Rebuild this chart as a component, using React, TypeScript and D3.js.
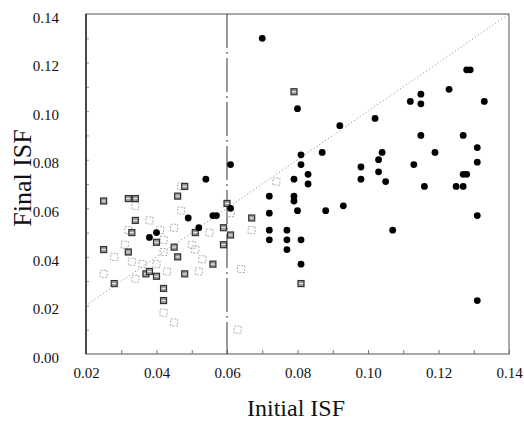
import React, { useEffect, useRef } from "react";
import * as d3 from "d3";

const xTicks = [0.02, 0.04, 0.06, 0.08, 0.1, 0.12, 0.14];
const yTicks = [0, 0.02, 0.04, 0.06, 0.08, 0.1, 0.12, 0.14];
const splitX = 0.06;

// [initial ISF, final ISF]
const circles: [number, number][] = [
  [0.070, 0.130], [0.080, 0.101], [0.092, 0.094], [0.102, 0.097], [0.112, 0.104],
  [0.115, 0.107], [0.115, 0.103], [0.123, 0.109], [0.128, 0.117], [0.129, 0.117],
  [0.133, 0.104], [0.115, 0.090], [0.127, 0.090], [0.131, 0.085], [0.131, 0.079],
  [0.119, 0.083], [0.113, 0.078], [0.104, 0.083], [0.103, 0.080], [0.103, 0.075],
  [0.105, 0.071], [0.098, 0.077], [0.098, 0.072], [0.116, 0.069], [0.125, 0.069],
  [0.127, 0.069], [0.127, 0.074], [0.128, 0.074], [0.131, 0.057], [0.107, 0.051],
  [0.131, 0.022], [0.087, 0.083], [0.088, 0.059], [0.093, 0.061], [0.081, 0.082],
  [0.081, 0.078], [0.083, 0.074], [0.083, 0.070], [0.079, 0.072], [0.079, 0.065],
  [0.079, 0.063], [0.080, 0.059], [0.072, 0.065], [0.072, 0.058], [0.072, 0.051],
  [0.072, 0.047], [0.077, 0.051], [0.077, 0.047], [0.077, 0.043], [0.081, 0.047],
  [0.081, 0.037], [0.061, 0.078], [0.061, 0.060], [0.054, 0.072], [0.056, 0.057],
  [0.057, 0.057], [0.049, 0.056], [0.052, 0.052], [0.040, 0.050], [0.038, 0.048],
];

const filledSquares: [number, number][] = [
  [0.025, 0.063], [0.025, 0.043], [0.028, 0.029], [0.032, 0.064], [0.034, 0.064],
  [0.034, 0.055], [0.033, 0.050], [0.032, 0.042], [0.037, 0.033], [0.038, 0.034],
  [0.040, 0.032], [0.040, 0.046], [0.042, 0.027], [0.042, 0.022], [0.045, 0.044],
  [0.046, 0.040], [0.046, 0.065], [0.048, 0.069], [0.048, 0.033], [0.051, 0.050],
  [0.056, 0.037], [0.059, 0.045], [0.059, 0.052], [0.060, 0.062], [0.061, 0.049],
  [0.067, 0.056], [0.079, 0.108], [0.081, 0.029],
];

const openSquares: [number, number][] = [
  [0.025, 0.033], [0.028, 0.040], [0.031, 0.045], [0.032, 0.051], [0.033, 0.038],
  [0.034, 0.031], [0.034, 0.061], [0.038, 0.055], [0.036, 0.037], [0.040, 0.037],
  [0.041, 0.051], [0.042, 0.047], [0.042, 0.042], [0.043, 0.034], [0.045, 0.052],
  [0.047, 0.059], [0.047, 0.069], [0.050, 0.045], [0.051, 0.043], [0.053, 0.039],
  [0.052, 0.034], [0.055, 0.050], [0.064, 0.035], [0.067, 0.051], [0.074, 0.071],
  [0.061, 0.058], [0.063, 0.010], [0.042, 0.017], [0.045, 0.013],
];

const App = () => {
  const chartRef = useRef<SVGSVGElement>(null);

  useEffect(() => {
    const width = 524;
    const height = 422;
    const margin = { top: 14, right: 15, bottom: 68, left: 86 };

    const svg = d3.select(chartRef.current);
    svg.selectAll("*").remove();
    svg.attr("width", width).attr("height", height);

    const x = d3
      .scaleLinear()
      .domain([0.02, 0.14])
      .range([margin.left, width - margin.right]);
    const y = d3
      .scaleLinear()
      .domain([0, 0.14])
      .range([height - margin.bottom, margin.top]);

    const font = '"Liberation Serif", "Times New Roman", Times, serif';

    // frame
    svg
      .append("rect")
      .attr("x", x(0.02))
      .attr("y", y(0.14))
      .attr("width", x(0.14) - x(0.02))
      .attr("height", y(0) - y(0.14))
      .attr("fill", "none")
      .attr("stroke", "#555")
      .attr("stroke-width", 1);

    // minor inward ticks
    const xMinor = d3.range(0.03, 0.14, 0.01);
    const yMinor = d3.range(0.01, 0.14, 0.01);
    svg
      .append("g")
      .attr("transform", `translate(0,${y(0)})`)
      .call(d3.axisBottom(x).tickValues(xMinor).tickSize(-4).tickFormat(() => ""))
      .call((g) => g.select(".domain").remove())
      .selectAll("line")
      .attr("stroke", "#777");
    svg
      .append("g")
      .attr("transform", `translate(${x(0.02)},0)`)
      .call(d3.axisLeft(y).tickValues(yMinor).tickSize(-3).tickFormat(() => ""))
      .call((g) => g.select(".domain").remove())
      .selectAll("line")
      .attr("stroke", "#999");

    // left axis line a bit heavier
    svg
      .append("line")
      .attr("x1", x(0.02))
      .attr("x2", x(0.02))
      .attr("y1", y(0.14))
      .attr("y2", y(0))
      .attr("stroke", "#222")
      .attr("stroke-width", 1.4);

    // tick labels
    const xAxis = svg
      .append("g")
      .attr("transform", `translate(0,${y(0)})`)
      .call(d3.axisBottom(x).tickValues(xTicks).tickSize(0).tickPadding(13).tickFormat(d3.format(".2f")));
    xAxis.select(".domain").remove();
    xAxis.attr("font-family", null).attr("font-size", null);
    xAxis
      .selectAll("text")
      .style("font-family", font)
      .style("font-size", "15px")
      .attr("fill", "#111");

    const yAxis = svg
      .append("g")
      .attr("transform", `translate(${x(0.02)},0)`)
      .call(d3.axisLeft(y).tickValues(yTicks).tickSize(0).tickPadding(27).tickFormat(d3.format(".2f")));
    yAxis.select(".domain").remove();
    yAxis.attr("font-family", null).attr("font-size", null);
    yAxis
      .selectAll("text")
      .style("font-family", font)
      .style("font-size", "15px")
      .attr("fill", "#111")
      .attr("dy", "0.55em");

    // 1:1 line
    svg
      .append("line")
      .attr("x1", x(0.02))
      .attr("y1", y(0.02))
      .attr("x2", x(0.14))
      .attr("y2", y(0.14))
      .attr("stroke", "#888")
      .attr("stroke-width", 1)
      .attr("stroke-dasharray", "1,2.5");

    // split line
    svg
      .append("line")
      .attr("x1", x(splitX))
      .attr("x2", x(splitX))
      .attr("y1", y(0.14))
      .attr("y2", y(0))
      .attr("stroke", "#333")
      .attr("stroke-width", 1)
      .attr("stroke-dasharray", "34,4,2,4");

    // open squares
    const os = 7;
    svg
      .append("g")
      .selectAll("rect")
      .data(openSquares)
      .enter()
      .append("rect")
      .attr("x", (d) => x(d[0]) - os / 2)
      .attr("y", (d) => y(d[1]) - os / 2)
      .attr("width", os)
      .attr("height", os)
      .attr("fill", "none")
      .attr("stroke", "#aaa")
      .attr("stroke-width", 1)
      .attr("stroke-dasharray", "2,1.5");

    // filled squares
    const fs = 6;
    const sq = svg.append("g").selectAll("g").data(filledSquares).enter().append("g");
    sq.append("rect")
      .attr("x", (d) => x(d[0]) - fs / 2)
      .attr("y", (d) => y(d[1]) - fs / 2)
      .attr("width", fs)
      .attr("height", fs)
      .attr("fill", "#999")
      .attr("stroke", "#333")
      .attr("stroke-width", 1.2);
    sq.append("line")
      .attr("x1", (d) => x(d[0]) - 2)
      .attr("x2", (d) => x(d[0]) + 2)
      .attr("y1", (d) => y(d[1]))
      .attr("y2", (d) => y(d[1]))
      .attr("stroke", "#eee")
      .attr("stroke-width", 1);

    // filled circles
    svg
      .append("g")
      .selectAll("circle")
      .data(circles)
      .enter()
      .append("circle")
      .attr("cx", (d) => x(d[0]))
      .attr("cy", (d) => y(d[1]))
      .attr("r", 3.4)
      .attr("fill", "#000");

    // axis titles
    svg
      .append("text")
      .attr("x", 296)
      .attr("y", 416)
      .attr("text-anchor", "middle")
      .style("font-family", font)
      .style("font-size", "24px")
      .attr("fill", "#111")
      .text("Initial ISF");

    svg
      .append("text")
      .attr("transform", "translate(31,178) rotate(-90)")
      .attr("text-anchor", "middle")
      .style("font-family", font)
      .style("font-size", "26px")
      .attr("fill", "#111")
      .text("Final ISF");
  }, []);

  return (
    <svg
      ref={chartRef}
      style={{ position: "absolute", left: 0, top: 0, background: "#fff" }}
    ></svg>
  );
};

export default App;
